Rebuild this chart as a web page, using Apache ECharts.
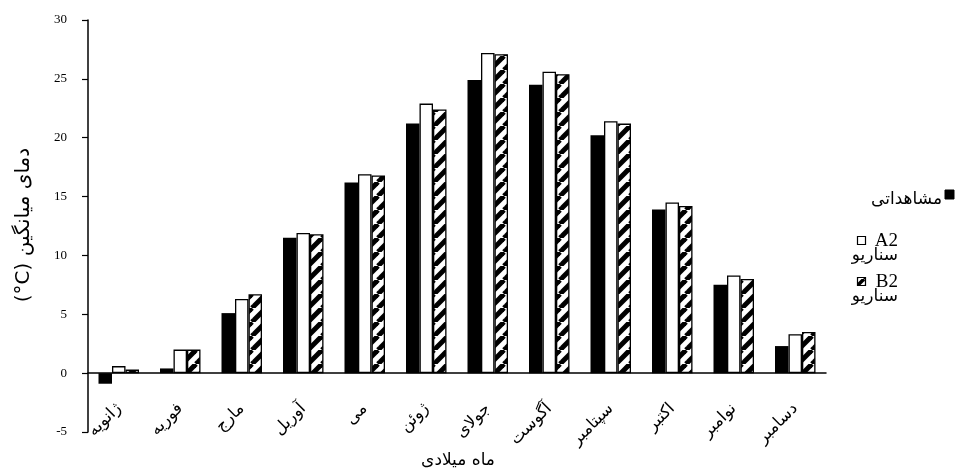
<!DOCTYPE html>
<html>
<head>
<meta charset="utf-8">
<script src="https://cdn.jsdelivr.net/npm/echarts@6/dist/echarts.min.js"></script>
<style>
  html, body { margin: 0; padding: 0; background: #ffffff; }
  #chart { width: 966px; height: 472px; }
</style>
</head>
<body>
<div id="chart"></div>
<script>
// Months of the Gregorian year
const months = ['ژانویه', 'فوریه', 'مارج', 'آوریل', 'می', 'ژوئن', 'جولای', 'آگوست', 'سپتامبر', 'اکتبر', 'نوامبر', 'دسامبر'];

// Mean monthly temperature (°C)
const observed   = [-0.9, 0.4, 5.1, 11.5, 16.2, 21.2, 24.9, 24.5, 20.2, 13.9, 7.5, 2.3];
const scenarioA2 = [0.6, 2.0, 6.3, 11.9, 16.9, 22.9, 27.2, 25.6, 21.4, 14.5, 8.3, 3.3];
const scenarioB2 = [0.3, 2.0, 6.7, 11.8, 16.8, 22.4, 27.1, 25.4, 21.2, 14.2, 8.0, 3.5];

// Value axis ticks
const yTicks = [-5, 0, 5, 10, 15, 20, 25, 30];

// Series names / legend labels
const nameObserved = 'مشاهداتی';
const scenarioWord = 'سناریو';
const codeA2 = 'A2';
const codeB2 = 'B2';

const yTitleWords = 'دمای میانگین';
const yTitleUnit = '(°C)';
const xTitle = 'ماه میلادی';

// Diagonal hatch tile used for the B2 bars
function hatchTile(size, lw) {
  const c = document.createElement('canvas');
  c.width = c.height = size;
  const g = c.getContext('2d');
  g.fillStyle = '#ffffff';
  g.fillRect(0, 0, size, size);
  g.strokeStyle = '#000000';
  g.lineWidth = lw;
  for (const o of [-size, 0, size]) {
    g.beginPath();
    g.moveTo(o, size);
    g.lineTo(o + size, 0);
    g.stroke();
  }
  return c;
}
const hatch = { image: hatchTile(14, 5), repeat: 'repeat' };
const hatchSmall = { image: hatchTile(9, 3.5), repeat: 'repeat' };

const serif = '"Liberation Serif", "DejaVu Sans", serif';
const arabic = '"DejaVu Sans", sans-serif';

const gridTop = 20;
const gridBottom = 40;
const chartHeight = 472;

const chart = echarts.init(document.getElementById('chart'), null, { renderer: 'canvas' });

// distance from the grid's lower edge up to the zero line, so month names sit under the zero line
const plotHeight = chartHeight - gridTop - gridBottom;
const zeroOffset = plotHeight * (0 - yTicks[0]) / (yTicks[yTicks.length - 1] - yTicks[0]);

const barStyleBase = { barWidth: 13.5, barGap: '0%', barCategoryGap: '34%' };

chart.setOption({
  animation: false,
  backgroundColor: '#ffffff',
  grid: { left: 88, right: 140, top: gridTop, bottom: gridBottom, containLabel: false, outerBoundsMode: 'none' },
  xAxis: {
    type: 'category',
    data: months,
    axisLine: { show: true, onZero: true, lineStyle: { color: '#000', width: 1.5 } },
    axisTick: { show: false },
    splitLine: { show: false },
    axisLabel: {
      interval: 0,
      rotate: 45,
      margin: 33 - zeroOffset,
      color: '#000',
      fontFamily: arabic,
      fontSize: 16.5,
      hideOverlap: false
    }
  },
  yAxis: {
    type: 'value',
    min: yTicks[0],
    max: yTicks[yTicks.length - 1],
    interval: yTicks[1] - yTicks[0],
    splitLine: { show: false },
    axisLine: { show: true, lineStyle: { color: '#000', width: 1.5 } },
    axisTick: { show: true, inside: false, length: 6, lineStyle: { color: '#000', width: 1.2 } },
    axisLabel: {
      margin: 21,
      color: '#000',
      fontFamily: serif,
      fontSize: 13,
      padding: [0, 0, 8, 0]
    }
  },
  series: [
    Object.assign({
      name: nameObserved,
      type: 'bar',
      data: observed,
      itemStyle: { color: '#000000' }
    }, barStyleBase),
    Object.assign({
      name: scenarioWord + ' ' + codeA2,
      type: 'bar',
      data: scenarioA2,
      itemStyle: { color: '#ffffff', borderColor: '#000000', borderWidth: 1.3 }
    }, barStyleBase),
    Object.assign({
      name: scenarioWord + ' ' + codeB2,
      type: 'bar',
      data: scenarioB2,
      itemStyle: { color: hatch, borderColor: '#000000', borderWidth: 1.3 }
    }, barStyleBase)
  ],
  graphic: [
    // value axis title (right-to-left, rotated; unit kept left-to-right)
    {
      type: 'text',
      x: 24, y: 225,
      rotation: Math.PI / 2,
      style: {
        text: '\u202B' + yTitleWords + ' \u202A' + yTitleUnit + '\u202C\u202C',
        font: '20px ' + arabic,
        fill: '#000',
        align: 'center',
        verticalAlign: 'middle'
      }
    },
    // category axis title
    {
      type: 'text',
      x: 458, y: 461,
      style: {
        text: xTitle,
        font: '17px ' + arabic,
        fill: '#000',
        align: 'center',
        verticalAlign: 'middle'
      }
    },
    // legend: observed
    {
      type: 'rect',
      shape: { x: 945, y: 190, width: 9, height: 9 },
      style: { fill: '#000', stroke: '#000', lineWidth: 1 }
    },
    {
      type: 'text',
      x: 942, y: 200,
      style: { text: nameObserved, font: '17px ' + arabic, fill: '#000', align: 'right', verticalAlign: 'middle' }
    },
    // legend: scenario A2
    {
      type: 'rect',
      shape: { x: 857.5, y: 236.5, width: 8, height: 8 },
      style: { fill: '#fff', stroke: '#000', lineWidth: 1.2 }
    },
    {
      type: 'text',
      x: 898, y: 241,
      style: { text: codeA2, font: '19px ' + serif, fill: '#000', align: 'right', verticalAlign: 'middle' }
    },
    {
      type: 'text',
      x: 898, y: 256,
      style: { text: scenarioWord, font: '17px ' + arabic, fill: '#000', align: 'right', verticalAlign: 'middle' }
    },
    // legend: scenario B2
    {
      type: 'rect',
      shape: { x: 857.5, y: 277.5, width: 8, height: 8 },
      style: { fill: hatchSmall, stroke: '#000', lineWidth: 1.2 }
    },
    {
      type: 'text',
      x: 898, y: 282,
      style: { text: codeB2, font: '19px ' + serif, fill: '#000', align: 'right', verticalAlign: 'middle' }
    },
    {
      type: 'text',
      x: 898, y: 297,
      style: { text: scenarioWord, font: '17px ' + arabic, fill: '#000', align: 'right', verticalAlign: 'middle' }
    }
  ]
});
</script>
</body>
</html>
